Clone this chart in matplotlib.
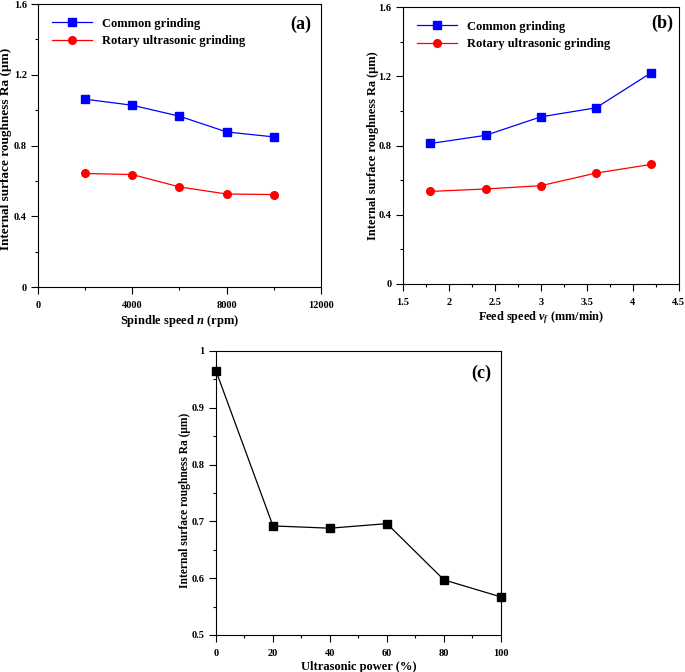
import matplotlib
matplotlib.use("Agg")
import matplotlib.pyplot as plt
from matplotlib.ticker import MultipleLocator, FuncFormatter

plt.rcParams['font.family'] = ['Liberation Serif', 'DejaVu Serif']
plt.rcParams['font.weight'] = 'bold'
plt.rcParams['mathtext.fontset'] = 'custom'
plt.rcParams['mathtext.rm'] = 'Liberation Serif:bold'
plt.rcParams['mathtext.it'] = 'Liberation Serif:bold:italic'
plt.rcParams['mathtext.bf'] = 'Liberation Serif:bold'

# Data
spindle_speed = [2000, 4000, 6000, 8000, 10000]
common_a = [1.062, 1.028, 0.966, 0.877, 0.849]
rotary_a = [0.642, 0.636, 0.566, 0.526, 0.523]

feed_speed = [1.8, 2.4, 3.0, 3.6, 4.2]
common_b = [0.812, 0.859, 0.966, 1.018, 1.221]
rotary_b = [0.535, 0.549, 0.568, 0.641, 0.691]

ultrasonic_power = [0, 20, 40, 60, 80, 100]
ra_c = [0.965, 0.692, 0.688, 0.696, 0.597, 0.567]

ylabel = 'Internal surface roughness Ra (μm)'

fig = plt.figure(figsize=(6.85, 6.72), dpi=100)
ax_a = fig.add_axes([0.0555, 0.5729, 0.413, 0.421])
ax_b = fig.add_axes([0.588, 0.5774, 0.403, 0.412])
ax_c = fig.add_axes([0.3153, 0.0551, 0.416, 0.4226])

def style(ax):
    ax.tick_params(which='both', direction='out', top=False, right=False,
                   labelsize=7.5, width=0.8)
    ax.tick_params(which='major', length=5)
    ax.tick_params(which='minor', length=2.5)
    ax.tick_params(axis='x', which='major', pad=5)
    ax.tick_params(axis='y', which='major', pad=3)
    for lab in ax.get_xticklabels() + ax.get_yticklabels():
        lab.set_fontweight('bold')
    for s in ax.spines.values():
        s.set_linewidth(0.8)

def series_plot(ax, x, c, r):
    ax.plot(x, c, color='blue', marker='s', markersize=5.5, linewidth=0.9,
            label='Common grinding')
    ax.plot(x, r, color='red', marker='o', markersize=5.5, linewidth=0.9,
            label='Rotary ultrasonic grinding')
    ax.legend(loc='upper left', frameon=False, handlelength=3.2,
              prop={'weight': 'bold', 'size': 9}, borderaxespad=0.7,
              labelspacing=0.45)

fmt_y16 = FuncFormatter(lambda v, p: '0' if abs(v) < 1e-9 else f'{v:.1f}')

# (a)
series_plot(ax_a, spindle_speed, common_a, rotary_a)
ax_a.set_xlim(0, 12000)
ax_a.set_ylim(0, 1.6)
ax_a.xaxis.set_major_locator(MultipleLocator(4000))
ax_a.xaxis.set_minor_locator(MultipleLocator(2000))
ax_a.yaxis.set_major_locator(MultipleLocator(0.4))
ax_a.yaxis.set_minor_locator(MultipleLocator(0.2))
ax_a.xaxis.set_major_formatter(FuncFormatter(lambda v, p: f'{int(v)}'))
ax_a.yaxis.set_major_formatter(fmt_y16)
ax_a.set_xlabel('Spindle speed $n$ (rpm)', fontsize=9, fontweight='bold', labelpad=2)
ax_a.set_ylabel(ylabel, fontsize=9.5, fontweight='bold')
ax_a.yaxis.set_label_coords(-0.092, 0.488)
ax_a.text(0.965, 0.93, '(a)', transform=ax_a.transAxes, ha='right', va='center',
          fontsize=13, fontweight='bold')
style(ax_a)

# (b)
series_plot(ax_b, feed_speed, common_b, rotary_b)
ax_b.set_xlim(1.5, 4.5)
ax_b.set_ylim(0, 1.6)
ax_b.xaxis.set_major_locator(MultipleLocator(0.5))
ax_b.xaxis.set_minor_locator(MultipleLocator(0.25))
ax_b.yaxis.set_major_locator(MultipleLocator(0.4))
ax_b.yaxis.set_minor_locator(MultipleLocator(0.2))
ax_b.xaxis.set_major_formatter(FuncFormatter(lambda v, p: f'{v:g}'))
ax_b.yaxis.set_major_formatter(fmt_y16)
ax_b.set_xlabel('Feed speed $v_f$ (mm/min)', fontsize=8.8, fontweight='bold', labelpad=2)
ax_b.set_ylabel(ylabel, fontsize=8.9, fontweight='bold')
ax_b.yaxis.set_label_coords(-0.087, 0.498)
ax_b.text(0.98, 0.94, '(b)', transform=ax_b.transAxes, ha='right', va='center',
          fontsize=13, fontweight='bold')
style(ax_b)

# (c)
ax_c.plot(ultrasonic_power, ra_c, color='black', marker='s', markersize=5.5,
          linewidth=0.9, clip_on=False, zorder=3)
ax_c.set_xlim(0, 100)
ax_c.set_ylim(0.5, 1.0)
ax_c.xaxis.set_major_locator(MultipleLocator(20))
ax_c.xaxis.set_minor_locator(MultipleLocator(10))
ax_c.yaxis.set_major_locator(MultipleLocator(0.1))
ax_c.yaxis.set_minor_locator(MultipleLocator(0.05))
ax_c.yaxis.set_major_formatter(FuncFormatter(lambda v, p: f'{v:g}'))
ax_c.set_xlabel('Ultrasonic power (%)', fontsize=9, fontweight='bold', labelpad=2)
ax_c.set_ylabel(ylabel, fontsize=8.3, fontweight='bold')
ax_c.yaxis.set_label_coords(-0.088, 0.475)
ax_c.text(0.965, 0.92, '(c)', transform=ax_c.transAxes, ha='right', va='center',
          fontsize=13, fontweight='bold')
style(ax_c)

fig.savefig('out.png', dpi=100)
